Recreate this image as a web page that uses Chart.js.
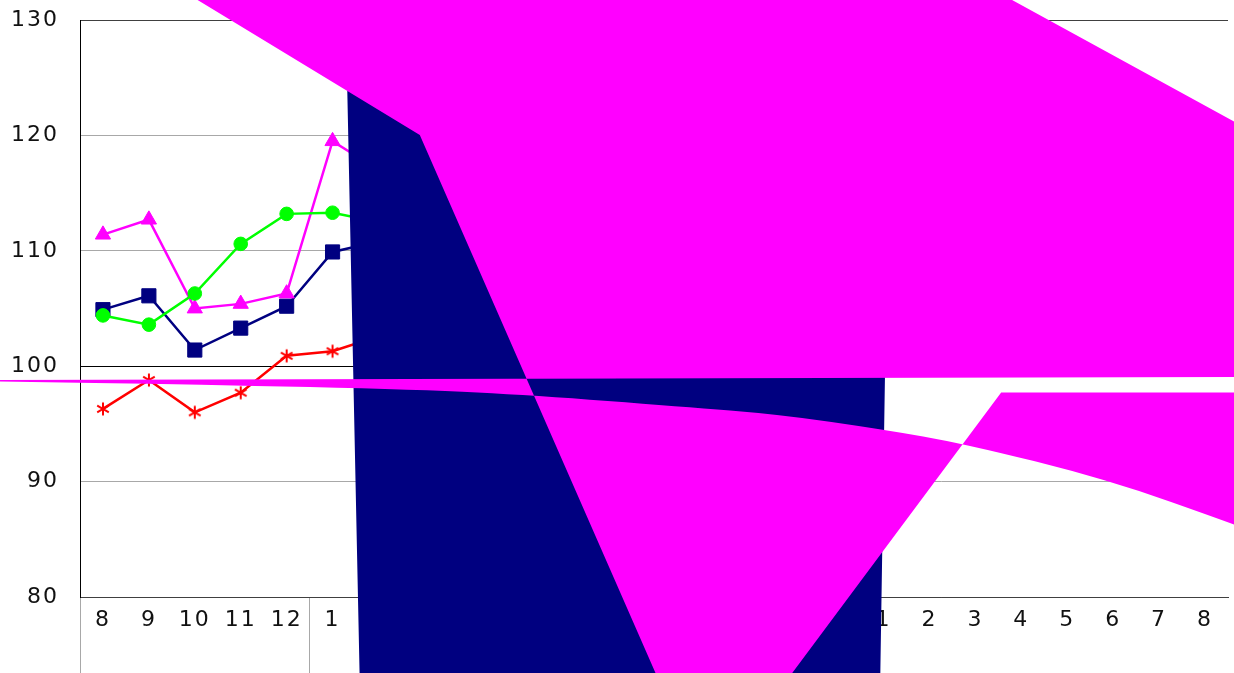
<!DOCTYPE html>
<html>
<head>
<meta charset="utf-8">
<script src="https://cdn.jsdelivr.net/npm/chart.js@4.4.1/dist/chart.umd.min.js"></script>
<style>
    html, body { margin:0; padding:0; background:#fff; overflow:hidden; }
    #wrap { position:relative; width:1234px; height:673px; }
</style>
</head>
<body>
<div id="wrap"><canvas id="chart"></canvas></div>
<script>
const months = ['8','9','10','11','12','1','2','3','4','5','6','7','8','9','10','11','12','1','2','3','4','5','6','7','8'];
const yearStarts = [0, 5, 17, 25];

// only the first points are visible, the rest sits under the big shapes
const pinkValues  = [111.4, 112.7, 105.0, 105.4, 106.3, 119.5, 117.0, null, null, null, null, null, null, null, null, null, null, null, null, null, null, null, null, null, null];
const greenValues = [104.4, 103.6, 106.3, 110.6, 113.2, 113.3, 112.5, null, null, null, null, null, null, null, null, null, null, null, null, null, null, null, null, null, null];
const navyValues  = [104.9, 106.1, 101.4, 103.3, 105.2, 109.9, 110.8, null, null, null, null, null, null, null, null, null, null, null, null, null, null, null, null, null, null];
const redValues   = [96.3, 98.8, 96.0, 97.7, 100.9, 101.3, 102.6, null, null, null, null, null, null, null, null, null, null, null, null, null, null, null, null, null, null];

const yTicks = [80, 90, 100, 110, 120, 130];

// big shapes, in category index / value units
const sheetX = [1.35, 6.90, 12.28, 14.59, 19.56, 25.20, 25.20, 19.01];
const sheetY = [133.45, 120.04, 71.17, 71.17, 97.72, 97.72, 119.96, 133.45];
const bandTopX = [-2.46, 25.20];
const bandTopY = [98.81, 99.07];
const bandCurveX = [-2.46, 2.11, 6.90, 9.41, 12.57, 14.74, 16.99, 18.73, 21.86, 24.63, 25.20];
const bandCurveY = [98.69, 98.42, 97.98, 97.47, 96.51, 95.82, 94.52, 93.31, 90.20, 86.31, 85.44];
const blockX = [5.27, 5.60, 16.92, 17.03, 17.07];
const blockY = [133.45, 71.17, 71.17, 99.20, 105.77];

function asteriskMark(color) {
    const c = document.createElement('canvas');
    c.width = 16;
    c.height = 16;
    const g = c.getContext('2d');
    g.strokeStyle = color;
    g.lineWidth = 2;
    g.beginPath();
    g.moveTo(8, 1.5); g.lineTo(8, 14.5);
    g.moveTo(2.2, 4.6); g.lineTo(13.8, 11.4);
    g.moveTo(2.2, 11.4); g.lineTo(13.8, 4.6);
    g.stroke();
    return c;
}

const spacingPlugin = {
    id:'spacing',
    beforeDraw(chart) { chart.ctx.letterSpacing = '2px'; }
};

const overlayPlugin = {
    id:'overlay',
    afterDatasetsDraw(chart) {
        const { ctx, scales:{ x, y } } = chart;
        const toPx = (xs, ys) => xs.map((v, i) => [x.getPixelForValue(v), y.getPixelForValue(ys[i])]);
        const trace = (pts, start) => pts.forEach(([px, py], i) => {
            if (i === 0 && start) ctx.moveTo(px, py); else ctx.lineTo(px, py);
        });
        const smooth = pts => {
            ctx.lineTo(pts[0][0], pts[0][1]);
            for (let i = 1; i < pts.length - 1; i++) {
                const mx = (pts[i][0] + pts[i + 1][0]) / 2;
                const my = (pts[i][1] + pts[i + 1][1]) / 2;
                ctx.quadraticCurveTo(pts[i][0], pts[i][1], mx, my);
            }
            const last = pts[pts.length - 1];
            ctx.lineTo(last[0], last[1]);
        };

        ctx.save();
        ctx.beginPath();
        trace(toPx(blockX, blockY), true);
        ctx.closePath();
        ctx.fillStyle = '#000080';
        ctx.fill();

        ctx.beginPath();
        trace(toPx(sheetX, sheetY), true);
        ctx.closePath();
        trace(toPx(bandTopX, bandTopY), true);
        smooth(toPx(bandCurveX, bandCurveY).reverse());
        ctx.closePath();
        ctx.fillStyle = '#ff00ff';
        ctx.fill('evenodd');
        ctx.restore();
    }
};

function series(label, data, color, pointStyle, radius) {
    return {
        label, data,
        borderColor:color,
        backgroundColor:color,
        borderWidth:2.5,
        pointStyle,
        pointRadius:radius,
        pointHoverRadius:radius,
        pointBorderWidth:1,
        tension:0
    };
}

Chart.defaults.font.family = "'DejaVu Sans', sans-serif";

new Chart(document.getElementById('chart'), {
    type:'line',
    data:{
        labels:months,
        datasets:[
            series('green', greenValues, '#00ff00', 'circle', 6.8),
            series('pink', pinkValues, '#ff00ff', 'triangle', 8.8),
            series('navy', navyValues, '#000080', 'rect', 10),
            series('red', redValues, '#ff0000', asteriskMark('#ff0000'), 8)
        ]
    },
    options:{
        responsive:true,
        maintainAspectRatio:false,
        animation:false,
        layout:{ autoPadding:false, padding:{ top:20, right:6, left:0, bottom:0 } },
        plugins:{ legend:{ display:false }, tooltip:{ enabled:false } },
        scales:{
            x:{
                offset:true,
                grid:{
                    offset:true,
                    color:c => c.index === 25 ? '#6e6e6e' : 'transparent',
                    tickColor:c => yearStarts.includes(c.index) ? '#a8a8a8' : 'transparent',
                    tickLength:76
                },
                border:{ color:'#404040', width:1 },
                ticks:{ padding:-66, color:'#111', font:{ size:22 }, autoSkip:false, maxRotation:0 },
                afterFit(scale) {
                    scale.height = 76;
                    scale.paddingLeft = 0;
                    scale.paddingRight = 0;
                }
            },
            y:{
                min:80,
                max:130,
                afterBuildTicks(scale) { scale.ticks = yTicks.map(value => ({ value })); },
                grid:{
                    drawTicks:false,
                    color:c => {
                        const v = c.tick && c.tick.value;
                        if (v === 100) return '#000';
                        if (v === 80 || v === 130) return '#404040';
                        return '#a8a8a8';
                    }
                },
                border:{ color:'#000', width:1 },
                ticks:{ padding:21, color:'#111', font:{ size:22 } },
                afterFit(scale) {
                    scale.width = 80;
                    scale.paddingTop = 0;
                    scale.paddingBottom = 0;
                }
            }
        }
    },
    plugins:[spacingPlugin, overlayPlugin]
});
</script>
</body>
</html>
